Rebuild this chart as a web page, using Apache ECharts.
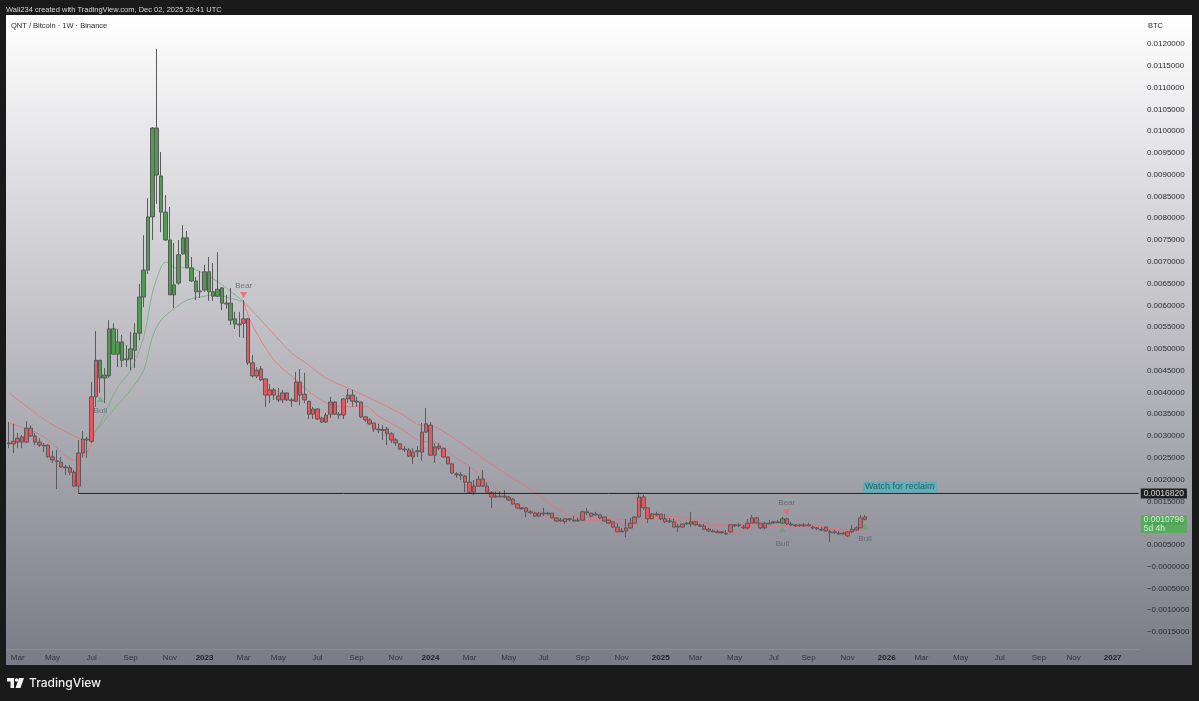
<!DOCTYPE html>
<html><head><meta charset="utf-8">
<style>html,body{margin:0;padding:0;background:#1a1a1a}#c{width:1199px;height:701px}</style>
<script src="https://cdn.jsdelivr.net/npm/echarts@6/dist/echarts.min.js"></script>
</head><body><div id="c"></div>
<script>
const opens=[
0.00284,0.00288,0.00295,0.00298,0.00286,0.00318,0.003,0.00286,0.00279,0.00279,
0.00252,0.00243,0.0024,0.00229,0.00227,0.00217,0.00185,0.00261,0.00293,0.00288,
0.0039,0.00474,0.0044,0.00438,0.00546,0.00516,0.00516,0.00477,0.00477,0.00497,
0.00536,0.00619,0.00681,0.00803,0.01007,0.00897,0.00814,0.0075,0.00647,0.00651,
0.00718,0.00755,0.00686,0.00656,0.00633,0.00635,0.00677,0.00631,0.00621,0.0064,
0.00605,0.00605,0.00569,0.00557,0.00559,0.00569,0.00468,0.00451,0.00454,0.00431,
0.00406,0.00406,0.00392,0.00399,0.00399,0.00383,0.0038,0.00424,0.00396,0.0038,
0.00362,0.00362,0.00341,0.00332,0.0035,0.00378,0.0035,0.00348,0.00385,0.00394,
0.0038,0.00378,0.00344,0.00337,0.0033,0.00316,0.00315,0.00316,0.00305,0.00291,
0.00282,0.0027,0.00268,0.00263,0.00266,0.00263,0.00309,0.00325,0.00275,0.00277,
0.00272,0.00252,0.00236,0.00213,0.00211,0.00208,0.00194,0.00171,0.00185,0.00201,
0.00185,0.00171,0.00162,0.00162,0.00162,0.0016,0.00155,0.00144,0.00135,0.00135,
0.00126,0.00123,0.00123,0.00123,0.00123,0.00123,0.00112,0.00107,0.0011,0.0011,
0.00107,0.00107,0.00107,0.00126,0.00123,0.00121,0.00119,0.00114,0.00107,0.00103,
0.00091,0.00082,0.00082,0.00089,0.001,0.00114,0.0016,0.00135,0.00121,0.00121,
0.00121,0.0011,0.00105,0.00103,0.00093,0.00098,0.001,0.00103,0.00103,0.00096,
0.00093,0.00086,0.00082,0.0008,0.0008,0.00077,0.0008,0.00096,0.00096,0.00091,
0.00089,0.001,0.00112,0.001,0.001,0.001,0.00103,0.00103,0.001,0.0011,
0.00098,0.00096,0.00096,0.00096,0.00096,0.00091,0.00089,0.00086,0.00082,0.0008,
0.0008,0.00077,0.00077,0.00071,0.0008,0.00084,0.00089,0.00114];
const closes=[
0.00282,0.00282,0.00286,0.00286,0.00318,0.003,0.00286,0.00279,0.00277,0.00252,
0.00245,0.00241,0.00229,0.00227,0.00217,0.00185,0.00261,0.00293,0.00291,0.0039,
0.00474,0.00433,0.00433,0.00546,0.00488,0.00488,0.00474,0.00475,0.005,0.00536,
0.00619,0.00681,0.00803,0.01007,0.00899,0.00814,0.0075,0.00624,0.00624,0.00716,
0.00755,0.00686,0.00656,0.00631,0.00631,0.00677,0.00631,0.00621,0.00637,0.00605,
0.00603,0.00566,0.00557,0.00555,0.00569,0.00468,0.00438,0.00438,0.00429,0.00394,
0.00394,0.00394,0.00383,0.00383,0.00383,0.00381,0.00424,0.00394,0.00383,0.0035,
0.0035,0.00339,0.00332,0.00348,0.00378,0.0035,0.00348,0.00385,0.00394,0.0038,
0.00378,0.00344,0.00337,0.00328,0.00316,0.00314,0.00313,0.00305,0.00291,0.00284,
0.0027,0.00268,0.00254,0.00252,0.00264,0.00309,0.00328,0.00256,0.00256,0.00272,
0.00252,0.00236,0.00215,0.00211,0.00209,0.00194,0.00171,0.00185,0.00201,0.00185,
0.00171,0.0016,0.0016,0.0016,0.0016,0.00153,0.00144,0.00135,0.00133,0.00126,
0.00124,0.00116,0.00116,0.00121,0.00121,0.00112,0.00105,0.00105,0.00103,0.00108,
0.00105,0.00105,0.00126,0.00124,0.00116,0.00119,0.00112,0.00105,0.001,0.00091,
0.0008,0.0008,0.00089,0.001,0.00114,0.0016,0.00135,0.0011,0.0011,0.00119,
0.0011,0.00103,0.00103,0.00091,0.00091,0.00091,0.00098,0.00098,0.00096,0.00093,
0.00086,0.00082,0.0008,0.00078,0.00078,0.00075,0.00096,0.00094,0.00094,0.00089,
0.001,0.00112,0.001,0.00089,0.00089,0.00098,0.00101,0.00101,0.0011,0.00098,
0.00096,0.00094,0.00094,0.00094,0.00094,0.00089,0.00087,0.00084,0.00091,0.00078,
0.00078,0.00075,0.00075,0.0008,0.00086,0.00089,0.00112,0.00108];
const lows=[
0.00272,0.00261,0.00272,0.00272,0.00284,0.00298,0.00279,0.00275,0.00263,0.0025,
0.00238,0.00178,0.00227,0.0021,0.0021,0.00183,0.00168,0.0025,0.0025,0.00284,
0.00367,0.00399,0.00376,0.00433,0.00486,0.00458,0.00458,0.00458,0.00451,0.00456,
0.0052,0.00596,0.00672,0.0075,0.00833,0.00768,0.00748,0.00624,0.00594,0.00647,
0.00716,0.00686,0.00654,0.00612,0.00617,0.00631,0.0061,0.0061,0.00619,0.00589,
0.00592,0.00555,0.00546,0.00527,0.00525,0.00463,0.00435,0.00433,0.00426,0.00367,
0.00376,0.00383,0.00378,0.00376,0.0038,0.00367,0.00378,0.00371,0.00376,0.00339,
0.00339,0.00337,0.0033,0.0033,0.00341,0.00348,0.00339,0.00339,0.00376,0.00367,
0.00367,0.00341,0.00332,0.00325,0.00309,0.00307,0.00291,0.00279,0.00284,0.00277,
0.00268,0.00263,0.00252,0.00236,0.00252,0.00243,0.00307,0.00256,0.00238,0.00268,
0.0025,0.00236,0.00213,0.00204,0.00199,0.00171,0.00167,0.00164,0.00183,0.00183,
0.00171,0.00135,0.00158,0.0016,0.00158,0.00151,0.00142,0.00132,0.0013,0.00114,
0.00121,0.00114,0.00114,0.00116,0.00119,0.00112,0.00103,0.00103,0.00098,0.00105,
0.00103,0.00103,0.00105,0.00119,0.00114,0.00116,0.0011,0.00103,0.00098,0.00089,
0.0008,0.0008,0.00068,0.00086,0.001,0.00112,0.0013,0.001,0.0011,0.00116,
0.00107,0.001,0.001,0.00089,0.0008,0.00089,0.00096,0.00091,0.00093,0.00091,
0.00084,0.0008,0.0008,0.00077,0.00075,0.00073,0.00077,0.00091,0.00091,0.00086,
0.00086,0.001,0.001,0.00086,0.00086,0.00098,0.00098,0.001,0.00098,0.00096,
0.00093,0.00091,0.00091,0.00091,0.00093,0.00086,0.00084,0.00082,0.0008,0.00057,
0.00075,0.00073,0.00073,0.00068,0.00077,0.00082,0.00089,0.00107];
const highs=[
0.00332,0.00328,0.00307,0.00302,0.00334,0.00325,0.00307,0.00295,0.00284,0.00281,
0.00266,0.00268,0.00252,0.00233,0.00233,0.00222,0.00291,0.00311,0.00298,0.00424,
0.00541,0.00474,0.00456,0.00566,0.00559,0.00546,0.00532,0.00509,0.00539,0.00559,
0.00649,0.00761,0.00846,0.01009,0.01189,0.00952,0.00853,0.00826,0.00743,0.0075,
0.00784,0.00771,0.00711,0.00665,0.00679,0.00693,0.00711,0.00697,0.00722,0.00642,
0.00624,0.0064,0.00585,0.00585,0.00612,0.00571,0.00486,0.00458,0.00461,0.00431,
0.00419,0.0041,0.0041,0.00406,0.00399,0.00387,0.00447,0.00454,0.00445,0.0038,
0.00367,0.00364,0.00344,0.00353,0.0039,0.0038,0.00355,0.00387,0.00408,0.00406,
0.0039,0.00378,0.00346,0.00341,0.0033,0.00328,0.00325,0.00321,0.00309,0.00295,
0.00284,0.00277,0.00272,0.00272,0.00277,0.0033,0.00364,0.00332,0.00284,0.00284,
0.00272,0.00252,0.00238,0.00217,0.00217,0.0021,0.00229,0.00199,0.00208,0.00222,
0.00194,0.00173,0.00173,0.00173,0.00176,0.00162,0.00158,0.00146,0.00137,0.00137,
0.0013,0.00126,0.00126,0.00135,0.00126,0.00123,0.00112,0.00112,0.00112,0.00112,
0.00116,0.00112,0.00128,0.00135,0.00123,0.00126,0.00119,0.00114,0.00107,0.00103,
0.001,0.00089,0.0011,0.00112,0.00116,0.00171,0.00165,0.00135,0.00123,0.00126,
0.00121,0.00121,0.00112,0.0011,0.00098,0.00098,0.00103,0.00126,0.00105,0.00098,
0.00098,0.00089,0.00086,0.00084,0.00082,0.00084,0.00096,0.00098,0.001,0.00096,
0.0011,0.00119,0.00114,0.001,0.00103,0.00107,0.00105,0.00107,0.00114,0.00112,
0.00103,0.00098,0.00098,0.001,0.001,0.00094,0.00091,0.00091,0.00093,0.00084,
0.00084,0.00082,0.0008,0.00082,0.00096,0.00093,0.00119,0.00119];

// weeks drawn as bull-regime (green) candles
const bullWeeks=[[21,53],[178,178]];

// trend lines: [week index, value]
const bearUpperEarly=[[0,0.00399],[3,0.00376],[9,0.00332],[16,0.00295],[18,0.00284],[19,0.003],[20,0.00314]];
const bearLowerEarly=[[0,0.0033],[6,0.00309],[9,0.00291],[15,0.00245],[18,0.00263],[19,0.00284],[20,0.00314]];
const bullFast=[[20,0.00314],[21,0.0033],[25,0.00412],[28,0.00451],[31,0.00527],[33,0.00628],[35,0.00688],[36,0.00699],[37,0.00697],[38,0.00686],[41,0.00686],[46,0.00667],[50,0.0064],[54,0.00608]];
const bullSlow=[[20,0.00311],[24,0.0036],[28,0.00406],[31,0.00451],[33,0.00527],[35,0.00566],[38,0.00592],[41,0.00612],[45,0.00621],[47,0.00624],[50,0.00619],[54,0.00608]];
const bearUpper=[[54,0.00608],[58,0.00566],[65,0.00491],[68,0.0047],[73,0.00433],[78,0.0041],[83,0.00387],[90,0.00353],[94,0.00327],[98,0.00321],[105,0.00277],[113,0.00222],[120,0.00178],[129,0.00119],[139,0.0011],[144,0.00107],[150,0.00116],[156,0.00112],[163,0.00096],[170,0.00098],[178,0.001],[185,0.00096],[191,0.00086],[197,0.00084]];
const bearLower=[[54,0.00608],[56,0.00555],[61,0.00474],[66,0.00429],[68,0.0041],[73,0.00376],[78,0.00367],[82,0.00369],[85,0.00346],[90,0.00318],[95,0.00288],[98,0.00286],[102,0.00256],[108,0.00215],[113,0.00171],[117,0.00144],[124,0.00114],[129,0.00103],[136,0.00107],[144,0.00096],[147,0.00112],[152,0.00109],[160,0.00093],[166,0.00077],[172,0.00091],[178,0.00093],[185,0.00093],[191,0.00084],[197,0.00084]];

// horizontal level
const reclaimLevel=0.001682;
const reclaimFromWeek=16, axisEndWeek=260;
const lastPrice=0.0010796;

// signals: [week index, value]
const bullSignals=[[21,0.00385],[178,0.00086],[197,0.00093]];
const bearSignals=[[54,0.00624],[179,0.00125]];
const bullLabelGaps=[5,8,6];
const noteWeek=205, noteValue=0.00183;

// time-axis labels: [week index, text]
const monthTicks=[[2,'Mar'],[10,'May'],[19,'Jul'],[28,'Sep'],[37,'Nov'],[45,'2023'],[54,'Mar'],[62,'May'],[71,'Jul'],[80,'Sep'],[89,'Nov'],[97,'2024'],[106,'Mar'],[115,'May'],[123,'Jul'],[132,'Sep'],[141,'Nov'],[150,'2025'],[158,'Mar'],[167,'May'],[176,'Jul'],[184,'Sep'],[193,'Nov'],[202,'2026'],[210,'Mar'],[219,'May'],[228,'Jul'],[237,'Sep'],[245,'Nov'],[254,'2027']];
const weekCount=261;

const RED='#e8575f', GREEN='#4f9c4f', WICK='#5a5a5a';
const categories=new Array(weekCount).fill('');
monthTicks.forEach(([i,t])=>{categories[i]=t;});

const isBull=i=>bullWeeks.some(([a,b])=>i>=a&&i<=b);
const candles=opens.map((o,i)=>{
  const col=isBull(i)?GREEN:RED;
  return {value:[o,closes[i],lows[i],highs[i]],
    itemStyle:{color:col,color0:col,borderColor:WICK,borderColor0:WICK,borderWidth:1}};
});
const trend=(data,color,name)=>({type:'line',name,data,symbol:'none',smooth:0.3,lineStyle:{color,width:1},z:2,silent:true,animation:false});
const FONT='"Liberation Sans",Arial,sans-serif';
const tag=(text,opt)=>Object.assign({show:true,formatter:text,fontFamily:FONT},opt);
const PINK='rgba(238,110,115,.75)', MOSS='rgba(115,175,125,.8)';

const option={
  animation:false,
  backgroundColor:'#1a1a1a',
  grid:{left:6.83,right:58.1,top:22.2,bottom:47.2,containLabel:false},
  xAxis:{type:'category',data:categories,boundaryGap:true,
    axisLine:{show:false},axisTick:{show:false},splitLine:{show:false},
    axisLabel:{interval:0,margin:0,fontSize:8,fontFamily:FONT,color:'#33343c',
      formatter:v=>/^\d{4}$/.test(v)?`{y|${v}}`:v,
      rich:{y:{fontWeight:'bold',fontSize:8,fontFamily:FONT,color:'#22232a'}}}},
  yAxis:{type:'value',position:'right',min:-0.002,max:0.0125,interval:0.0005,scale:false,
    axisLine:{show:false},axisTick:{show:false},splitLine:{show:false},
    axisLabel:{margin:6,fontSize:8,fontFamily:FONT,color:'#2a2a30',align:'left',
      formatter:v=>{
        const n=Math.round(v*1e4);
        if(n===125||n===-20) return '';
        if(n<=0) return '\u2212'+(Math.abs(n)/1e4).toFixed(7);
        return (n/1e4).toFixed(7);
      }}},
  series:[
    trend(bearUpperEarly,PINK,'EMA upper early'),
    trend(bearLowerEarly,PINK,'EMA lower early'),
    trend(bullFast,MOSS,'EMA fast bull'),
    trend(bullSlow,MOSS,'EMA slow bull'),
    trend(bearUpper,PINK,'EMA upper'),
    trend(bearLower,PINK,'EMA lower'),
    {type:'candlestick',name:'QNT/BTC',data:candles,barWidth:4,z:3,silent:true},
    {type:'line',name:'Reclaim level',data:[[reclaimFromWeek,reclaimLevel],[axisEndWeek,reclaimLevel]],symbol:'none',
      lineStyle:{color:'#222228',width:1},z:4,silent:true},
    {type:'scatter',name:'Bull',silent:true,z:5,symbol:'triangle',symbolSize:[7,6],
      itemStyle:{color:'rgba(76,175,100,.75)'},
      data:bullSignals.map((p,i)=>({value:p,label:tag('Bull',{position:'bottom',distance:bullLabelGaps[i],fontSize:8,color:'#5b5f66'})}))},
    {type:'scatter',name:'Bear',silent:true,z:5,symbol:'triangle',symbolRotate:180,symbolSize:[7,6],
      itemStyle:{color:'#f0606f'},
      data:bearSignals.map(p=>({value:p,label:tag('Bear',{position:'top',distance:2,fontSize:8,color:'#5b5f66'})}))},
    {type:'scatter',name:'Tags',silent:true,z:6,symbolSize:0,clip:false,
      data:[
        {value:[axisEndWeek,reclaimLevel],label:tag('0.0016820',{position:'right',distance:2,fontSize:8.5,color:'#fff',backgroundColor:'#000',padding:[1,3,0,3]})},
        {value:[axisEndWeek,lastPrice],label:tag('0.0010796\n5d 4h',{position:'right',distance:2,offset:[0,4.4],fontSize:8.5,lineHeight:9,color:'#e9ffe9',backgroundColor:'#49b04f',padding:[0,3,0,3],borderRadius:1})},
        {value:[noteWeek,noteValue],label:tag('Watch for reclaim',{position:'inside',fontSize:9,color:'#244a50',backgroundColor:'rgba(60,185,195,.85)',padding:[1,2,1,2]})}
      ]}
  ],
  graphic:{elements:[
    {type:'rect',z:-10,silent:true,shape:{x:6,y:15,width:1186,height:650},
      style:{fill:new echarts.graphic.LinearGradient(0,0,0,1,[{offset:0,color:'#ffffff'},{offset:1,color:'#7b7b87'}])}},
    {type:'rect',z:-9,silent:true,shape:{x:6,y:649,width:1134,height:1},style:{fill:'rgba(255,255,255,.10)'}},
    {type:'text',silent:true,x:6,y:6,style:{text:'Wali234 created with TradingView.com, Dec 02, 2025 20:41 UTC',font:'7.5px '+FONT,fill:'#d8d8d8'}},
    {type:'text',silent:true,x:11,y:22,style:{text:'QNT / Bitcoin · 1W · Binance',font:'7.5px '+FONT,fill:'#2b2b2b'}},
    {type:'text',silent:true,x:1148,y:22,style:{text:'BTC',font:'7.5px '+FONT,fill:'#2b2b2b'}},
    {type:'text',silent:true,x:29,y:677,style:{text:'TradingView',font:'500 12px Inter,'+FONT,fill:'#f2f2f2'}},
    {type:'rect',silent:true,shape:{x:7,y:678,width:7,height:3.5},style:{fill:'#f2f2f2'}},
    {type:'rect',silent:true,shape:{x:10.5,y:678,width:3.5,height:10},style:{fill:'#f2f2f2'}},
    {type:'circle',silent:true,shape:{cx:16.6,cy:680,r:1.8},style:{fill:'#f2f2f2'}},
    {type:'polygon',silent:true,shape:{points:[[19,678],[24,678],[20.5,688],[15.5,688]]},style:{fill:'#f2f2f2'}}
  ]}
};
const chart=echarts.init(document.getElementById('c'),null,{renderer:'canvas'});
chart.setOption(option);
</script></body></html>
